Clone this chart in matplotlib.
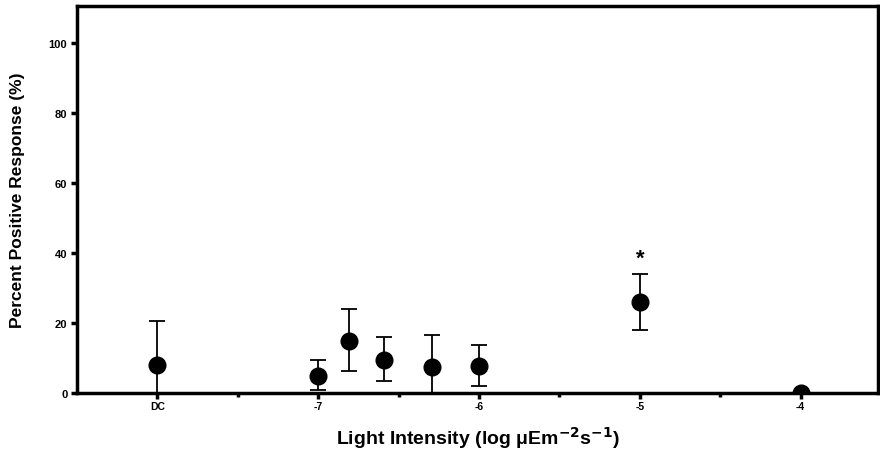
import numpy as np
import matplotlib
matplotlib.use("Agg")
import matplotlib.pyplot as plt

plt.rcParams['font.family'] = ['Liberation Sans', 'DejaVu Sans']

# light intensity positions (DC drawn at -8)
x_pos = [-8.0, -7.0, -6.81, -6.59, -6.29, -6.0, -5.0, -4.0]
resp = [8.0, 4.8, 14.9, 9.5, 7.5, 7.8, 26.0, 0.0]
err_hi = [12.6, 4.6, 9.1, 6.6, 9.1, 5.9, 8.0, 0.0]
err_lo = [12.6, 4.0, 8.6, 6.1, 9.1, 5.8, 8.0, 0.0]

tick_pos = [-8, -7, -6, -5, -4]
tick_lab = ['DC', '-7', '-6', '-5', '-4']
minor_pos = [-7.5, -6.5, -5.5, -4.5]
y_ticks = [0, 20, 40, 60, 80, 100]

fig = plt.figure(figsize=(8.8, 4.52), dpi=100)
ax = fig.add_axes([0.0875, 0.128, 0.91, 0.857])

ax.errorbar(x_pos, resp, yerr=[err_lo, err_hi], fmt='o', color='black',
            markersize=12, elinewidth=1.3, capsize=5.5, capthick=1.3,
            clip_on=True, zorder=3)
# significance marker
ax.text(-5.0, 35.5, '*', ha='center', va='bottom', fontsize=16, fontweight='bold')

ax.set_xlim(-8.5, -3.52)
ax.set_ylim(0, 110.5)
ax.set_xticks(tick_pos)
ax.set_xticklabels(tick_lab, fontsize=7.5, fontweight='bold')
ax.set_xticks(minor_pos, minor=True)
ax.set_yticks(y_ticks)
ax.set_yticklabels([str(v) for v in y_ticks], fontsize=8, fontweight='bold')

for s in ax.spines.values():
    s.set_linewidth(2.5)
ax.tick_params(axis='y', direction='out', length=4, width=2.5, pad=3)
ax.tick_params(axis='x', which='major', direction='out', length=4, width=2.5, pad=2)
ax.tick_params(axis='x', which='minor', direction='out', length=3, width=2.5)

ax.set_ylabel('Percent Positive Response (%)', fontsize=12.5, fontweight='bold', labelpad=17)
ax.set_xlabel('Light Intensity (log \u03bcEm$^{\\mathbf{-2}}$s$^{\\mathbf{-1}}$)',
              fontsize=14, fontweight='bold', labelpad=9)

fig.savefig('out.png', dpi=100)
